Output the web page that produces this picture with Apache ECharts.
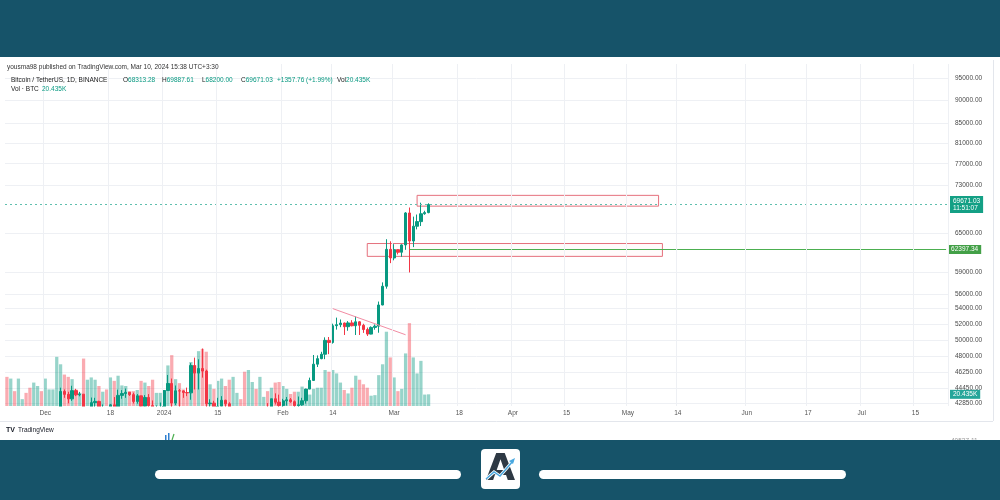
<!DOCTYPE html>
<html><head><meta charset="utf-8">
<script src="https://cdn.jsdelivr.net/npm/echarts@6/dist/echarts.min.js"></script>
<style>html,body{margin:0;padding:0;background:#fff}#c{width:1000px;height:500px}</style>
</head><body><div id="c"></div>
<script>
// ---------- data ----------
const firstDay = '2023-11-21';
const lastDay = '2024-07-23';
// daily candles [open, close, low, high], Nov 21 2023 .. Mar 10 2024
const candles = [
[37450,35750,35630,37650],[35750,37420,35600,37880],[37420,37290,36880,37850],[37290,37720,37250,38420],
[37720,37800,37600,37900],[37800,37450,37150,37820],[37450,37240,36700,37580],[37240,37830,36870,38390],
[37830,37850,37600,38440],[37850,37720,37500,38150],
[37720,38690,37600,38990],[38690,39470,38650,39700],[39470,39980,39280,40250],[39980,41990,39980,42420],
[41990,44080,41420,44490],[44080,43770,43400,44300],[43770,43290,42820,44050],[43290,44170,43080,44700],
[44170,43720,43580,44370],[43720,43790,43560,44040],[43790,41240,40220,43800],[41240,41450,40680,42100],
[41450,42890,40670,43430],[42890,43020,41400,43400],[43020,41940,41680,43090],[41940,42280,41700,42700],
[42280,41370,41250,42430],[41370,42660,40530,42750],[42660,42260,41800,43480],[42260,43660,42200,44280],
[43660,43860,43300,44230],[43860,43990,43400,44400],[43990,43740,43600,44000],[43740,43020,42800,43950],
[43020,43610,42780,43800],[43610,42520,41800,43620],[42520,43440,42100,43690],[43440,42580,42300,43800],
[42580,42070,41800,43120],[42070,42140,41520,42600],[42140,42280,41960,42900],
[42280,44180,42180,44190],[44180,44950,44150,45900],[44950,42850,40750,45500],[42850,44150,42630,44730],
[44150,44140,42450,44350],[44140,43970,43400,44200],[43970,43930,43580,44500],[43930,46970,43200,47250],
[46970,46110,44300,47890],[46110,46630,44300,47700],[46630,46340,45600,48970],[46340,42780,41500,46500],
[42780,42840,42450,43250],[42840,41730,41700,43080],[41730,42510,41720,43400],[42510,43140,42050,43580],
[43140,42770,42200,43200],[42770,41260,40680,42930],[41260,41620,40280,42200],[41620,41670,41440,41880],
[41670,41550,41420,41890],[41550,39510,39450,41690],[39510,39850,38550,40130],[39850,40080,39490,40550],
[40080,39930,39250,40290],[39930,41820,39820,42220],[41820,42120,41650,42200],[42120,42030,41620,42840],
[42030,43300,41800,43300],[43300,42940,42700,43880],[42940,42580,42280,43740],
[42580,43080,41880,43290],[43080,43190,42580,43490],[43190,42990,42880,43380],[42990,42580,42260,43120],
[42580,42660,42260,43540],[42660,43090,42570,43400],[43090,44340,42790,44380],[44340,45290,44330,45600],
[45290,47130,45240,48200],[47130,47770,46800,48150],[47770,48290,47700,48580],[48290,49960,47710,50330],
[49960,49700,48300,50370],[49700,51790,49560,52040],[51790,51910,51290,52820],[51910,52120,51600,52580],
[52120,51660,50620,52190],[51660,52140,51150,52370],[52140,51780,51700,52490],[51780,52280,50620,52990],
[52280,51840,50620,52370],[51840,51300,50880,52030],[51300,50730,50500,51550],[50730,51570,50700,51700],
[51570,51730,51280,51950],[51730,54480,50900,54940],[54480,57040,54440,57580],[57040,62430,56700,64000],
[62430,61130,60360,63680],
[61130,62390,60780,63230],[62390,61990,61660,62430],[61990,63110,61300,63230],[63110,68250,62360,68400],
[68250,63720,59000,69170],[63720,66070,62780,67640],[66070,66820,65560,67990],[66820,68120,66100,69990],
[68120,68310,67950,68620],[68313.28,69671.03,68200,69887.61]
];
// daily volume, thousands of BTC
const volumes = [
51,48,26,48,12,23,32,41,35,26,
48,29,29,86,73,55,51,47,29,23,
83,46,50,46,35,25,29,50,44,53,
36,35,26,26,28,44,41,35,46,23,
23,28,71,89,47,40,29,23,77,71,
96,100,95,38,30,44,48,35,46,51,
23,12,60,63,42,30,51,16,26,32,
41,42,35,30,21,25,25,34,22,20,
30,32,32,63,60,63,57,41,28,22,
32,53,46,38,32,18,19,54,73,130,
85,50,26,30,92,145,85,57,79,20,20.435
];
const priceTicks = [95000,90000,85000,81000,77000,73000,65000,59000,56000,54000,52000,50000,48000,46250,44450,42850];
const xTickDates = ['2023-12-01','2023-12-18','2024-01-01','2024-01-15','2024-02-01','2024-02-14','2024-03-01','2024-03-18',
  '2024-04-01','2024-04-15','2024-05-01','2024-05-14','2024-06-01','2024-06-17','2024-07-01','2024-07-15'];
const xTickText = ['Dec','18','2024','15','Feb','14','Mar','18','Apr','15','May','14','Jun','17','Jul','15'];
const lastPrice = 69671.03;
const lastTime = '11:51:07';
const levelPrice = 62397.34;
const levelStart = '2024-03-05';
const zones = [['2024-03-07',71260,'2024-05-09',69400],['2024-02-23',63330,'2024-05-10',61370]];
const trendLine = [['2024-02-14',54000],['2024-03-04',50650]];
const lastVolume = 20.435;

// ---------- chart ----------
function dayList(a,b){const out=[];let t=Date.parse(a+'T00:00:00Z');const e=Date.parse(b+'T00:00:00Z');
  while(t<=e){out.push(new Date(t).toISOString().slice(0,10));t+=86400000;}return out;}
const dates = dayList(firstDay,lastDay);
const UP='#089981', DOWN='#f23645';
const FONT='Liberation Sans, Arial, sans-serif';
const isTick = (i,v)=>xTickDates.indexOf(v)>=0;

const volData = volumes.map((v,i)=>({value:v,itemStyle:{color:candles[i][1]>=candles[i][0]?'rgba(8,153,129,0.42)':'rgba(242,54,69,0.42)'}}));

const BAND='#165369';
const TZ=70;
const chart = echarts.init(document.getElementById('c'),null,{renderer:'canvas'});
chart.setOption({
  animation:false,
  backgroundColor:'#ffffff',
  grid:[{left:5,right:52,top:64,bottom:94},{left:5,right:52,bottom:94,height:100}],
  xAxis:[
    {type:'category',data:dates,gridIndex:0,z:60,axisLine:{show:false},axisTick:{show:false},
     axisLabel:{interval:isTick,formatter:v=>{const i=xTickDates.indexOf(v);return i>=0?xTickText[i]:'';},
       color:'#555',fontSize:6.5,fontFamily:FONT,margin:4},
     splitLine:{show:true,interval:isTick,lineStyle:{color:'#eef0f4',width:1}}},
    {type:'category',data:dates,gridIndex:1,show:false}
  ],
  yAxis:[
    {type:'log',logBase:10,min:42540,max:98300,position:'right',gridIndex:0,
     axisLine:{show:false},axisTick:{show:false,customValues:priceTicks},
     axisLabel:{customValues:priceTicks,formatter:v=>Number(v).toFixed(2),color:'#4a4a4a',fontSize:6.5,fontFamily:FONT,margin:7},
     splitLine:{show:true,lineStyle:{color:'#eef0f4',width:1}}},
    {type:'value',gridIndex:1,min:0,max:175,show:false}
  ],
  series:[
    {type:'bar',xAxisIndex:1,yAxisIndex:1,data:volData,barCategoryGap:'15%',z:2,silent:true,
     markLine:{symbol:['none','none'],silent:true,data:[
       {yAxis:lastVolume,lineStyle:{color:'rgba(0,0,0,0)',width:0},
        label:{show:true,position:'end',distance:2,formatter:lastVolume.toFixed(3)+'K',backgroundColor:'#26a69a',
          color:'#fff',fontSize:6.5,fontFamily:FONT,padding:[1,3]}}]}},
    {type:'candlestick',xAxisIndex:0,yAxisIndex:0,data:candles,z:3,barWidth:'70%',silent:true,clip:true,
     itemStyle:{color:UP,color0:DOWN,borderColor:UP,borderColor0:DOWN,borderWidth:1},
     markArea:{silent:true,itemStyle:{color:'rgba(242,54,69,0.02)',borderColor:'#e5707c',borderWidth:1},
       data:zones.map(z=>[{coord:[z[0],z[1]]},{coord:[z[2],z[3]]}])},
     markLine:{symbol:['none','none'],silent:true,data:[
       {yAxis:lastPrice,lineStyle:{color:'#5fbfae',type:[2,3],width:1},
        label:{show:true,position:'end',distance:2,formatter:lastPrice.toFixed(2)+'\n'+lastTime,backgroundColor:'#14a085',
          color:'#fff',fontSize:6.5,fontFamily:FONT,lineHeight:7.5,padding:[1,3]}},
       [{coord:[levelStart,levelPrice],lineStyle:{color:'#4caf50',width:1,type:'solid'},
         label:{show:true,position:'end',distance:2,formatter:levelPrice.toFixed(2),backgroundColor:'#43a047',
          color:'#fff',fontSize:6.5,fontFamily:FONT,padding:[1,3]}},{coord:[lastDay,levelPrice]}],
       [{coord:trendLine[0],lineStyle:{color:'#f28ca3',width:1,type:'solid'},label:{show:false}},{coord:trendLine[1]}]
     ]}}
  ],
  graphic:[
    // mask below the price pane (cuts candles that fall under the scale minimum)
    {type:'rect',shape:{x:0,y:406.5,width:948,height:33.5},style:{fill:'#fff'},z:55},
    {type:'line',shape:{x1:993.5,y1:60,x2:993.5,y2:421},style:{stroke:'#e3e6ec',lineWidth:1},z:56},
    {type:'line',shape:{x1:0,y1:421.5,x2:993,y2:421.5},style:{stroke:'#e3e6ec',lineWidth:1},z:56},
    {type:'text',x:7,y:67,style:{text:'yousma98 published on TradingView.com, Mar 10, 2024 15:38 UTC+3:30',fill:'#333',font:'6.5px '+FONT,verticalAlign:'middle'},z:TZ},
    {type:'text',x:11,y:80,style:{text:'Bitcoin / TetherUS, 1D, BINANCE',fill:'#222',font:'6.5px '+FONT,verticalAlign:'middle'},z:TZ},
    {type:'text',x:123,y:80,style:{text:'{a|O}{b|68313.28}',rich:{a:{fill:'#222',font:'6.5px '+FONT},b:{fill:UP,font:'6.5px '+FONT}},verticalAlign:'middle'},z:TZ},
    {type:'text',x:162,y:80,style:{text:'{a|H}{b|69887.61}',rich:{a:{fill:'#222',font:'6.5px '+FONT},b:{fill:UP,font:'6.5px '+FONT}},verticalAlign:'middle'},z:TZ},
    {type:'text',x:202,y:80,style:{text:'{a|L}{b|68200.00}',rich:{a:{fill:'#222',font:'6.5px '+FONT},b:{fill:UP,font:'6.5px '+FONT}},verticalAlign:'middle'},z:TZ},
    {type:'text',x:241,y:80,style:{text:'{a|C}{b|69671.03}',rich:{a:{fill:'#222',font:'6.5px '+FONT},b:{fill:UP,font:'6.5px '+FONT}},verticalAlign:'middle'},z:TZ},
    {type:'text',x:277,y:80,style:{text:'+1357.76 (+1.99%)',fill:UP,font:'6.5px '+FONT,verticalAlign:'middle'},z:TZ},
    {type:'text',x:337,y:80,style:{text:'{a|Vol}{b|20.435K}',rich:{a:{fill:'#222',font:'6.5px '+FONT},b:{fill:UP,font:'6.5px '+FONT}},verticalAlign:'middle'},z:TZ},
    {type:'text',x:11,y:89,style:{text:'Vol · BTC',fill:'#222',font:'6.5px '+FONT,verticalAlign:'middle'},z:TZ},
    {type:'text',x:42,y:89,style:{text:'20.435K',fill:UP,font:'6.5px '+FONT,verticalAlign:'middle'},z:TZ},
    {type:'text',x:6,y:430,style:{text:'TV',fill:'#131722',font:'bold 7px '+FONT,verticalAlign:'middle'},z:TZ},
    {type:'text',x:18,y:430,style:{text:'TradingView',fill:'#131722',font:'6.5px '+FONT,verticalAlign:'middle'},z:TZ},
    {type:'text',x:951,y:441,style:{text:'40537.11',fill:'#999',font:'6.5px '+FONT,verticalAlign:'middle'},z:TZ},
    {type:'rect',shape:{x:165,y:435,width:1.5,height:5},style:{fill:'#2f7fd0'},z:TZ},
    {type:'rect',shape:{x:168,y:433,width:1.5,height:7},style:{fill:'#2f7fd0'},z:TZ},
    {type:'line',shape:{x1:172,y1:440,x2:174,y2:434},style:{stroke:'#4caf50',lineWidth:1.2},z:TZ},
    // frame bands
    {type:'rect',shape:{x:0,y:0,width:1000,height:57},style:{fill:BAND},z:100},
    {type:'rect',shape:{x:0,y:440,width:1000,height:60},style:{fill:BAND},z:100},
    {type:'rect',shape:{x:155,y:470,width:306,height:9,r:4.5},style:{fill:'#fff'},z:101},
    {type:'rect',shape:{x:539,y:470,width:307,height:9,r:4.5},style:{fill:'#fff'},z:101},
    {type:'rect',shape:{x:481,y:449,width:39,height:40,r:4},style:{fill:'#fff'},z:101},
    {type:'text',x:500.5,y:470,style:{text:'A',fill:'#2e3944',font:'bold 38px DejaVu Sans, sans-serif',align:'center',verticalAlign:'middle'},z:102},
    {type:'polyline',shape:{points:[[486,479],[494,472],[500,476],[513,461]]},style:{stroke:'#fff',lineWidth:3},z:103},
    {type:'polyline',shape:{points:[[486,479],[494,472],[500,476],[513,461]]},style:{stroke:'#4aa8e0',lineWidth:1.5,fill:null},z:104},
    {type:'polygon',shape:{points:[[515,458],[509,461],[513,464]]},style:{fill:'#4aa8e0'},z:104}
  ]
});
</script></body></html>
